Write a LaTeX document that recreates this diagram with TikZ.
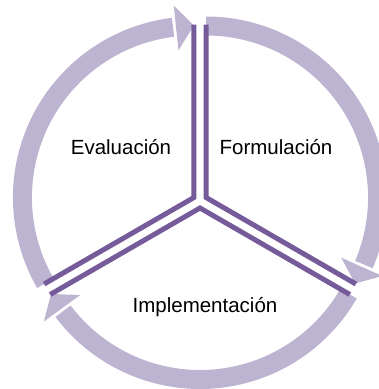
\documentclass[tikz,border=0pt]{standalone}
\usepackage{fontspec}
\setmainfont{Liberation Sans}
\usetikzlibrary{calc}
\definecolor{darkpurple}{HTML}{765B9B}
\definecolor{lightpurple}{HTML}{BDB4D2}
\tikzset{
  band/.style={fill=lightpurple},
  edgeline/.style={draw=darkpurple, line width=5pt, line join=miter},
  label/.style={anchor=base, font=\fontsize{20.5}{24}\selectfont, text=black, inner sep=0pt}
}
\begin{document}
\begin{tikzpicture}[x=1pt,y=1pt]
\useasboundingbox (-200,-188) rectangle (179,201);
% sectors: start angle, offset angle
\foreach \a/\b in {90/30, -30/-90, 210/150}{
  \coordinate (O) at (\b:7);
  \pgfmathsetmacro{\e}{\a-113}
  \pgfmathsetmacro{\h}{\a-114}
  \pgfmathsetmacro{\t}{\a-120}
  \fill[band] ($(O)+(\a:162)$) arc[start angle=\a, end angle=\e, radius=162]
     -- ($(O)+(\e:181)$) arc[start angle=\e, end angle=\a, radius=181] -- cycle;
  \fill[band] ($(O)+(\h:148)$) -- ($(O)+(\h:193)$) -- ($(O)+(\t:172)$) -- cycle;
}
\foreach \a/\b in {90/30, -30/-90, 210/150}{
  \coordinate (O) at (\b:7);
  \pgfmathsetmacro{\t}{\a-120}
  \draw[edgeline] ($(O)+(\a:173)$) -- (O) -- ($(O)+(\t:173)$);
}
\node[label] (form) at (76,47) {Formulación};
\node[label] (eval) at (-79,47) {Evaluación};
\node[label] (impl) at (5,-111) {Implementación};
\end{tikzpicture}
\end{document}
